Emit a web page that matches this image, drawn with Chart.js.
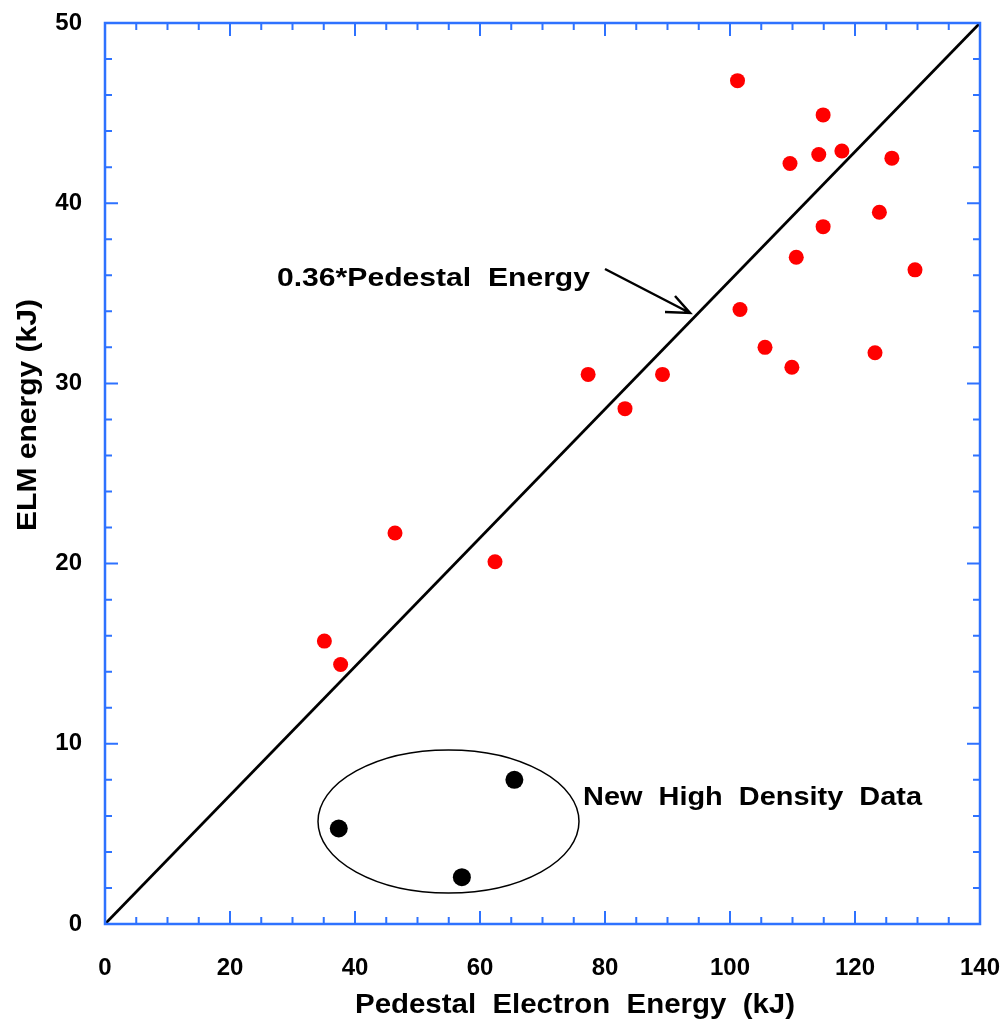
<!DOCTYPE html>
<html>
<head>
<meta charset="utf-8">
<script src="https://cdn.jsdelivr.net/npm/chart.js@4.4.0/dist/chart.umd.min.js"></script>
<style>
  html, body { margin: 0; padding: 0; background: #fff; }
  #wrap { width: 1000px; height: 1021px; }
</style>
</head>
<body>
<div id="wrap"><canvas id="chart" width="1000" height="1021"></canvas></div>
<script>
// ---------------------------------------------
// Data
// ---------------------------------------------
const pedestalX = [101.2, 114.9, 109.6, 114.2, 117.9, 125.9, 123.9, 114.9, 110.6, 129.6,
                   101.6, 105.6, 109.9, 123.2, 77.3, 89.2, 83.2, 46.4, 62.4, 35.1, 37.7];
const elmY      = [46.8, 44.9, 42.2, 42.7, 42.9, 42.5, 39.5, 38.7, 37.0, 36.3,
                   34.1, 32.0, 30.9, 31.7, 30.5, 30.5, 28.6, 21.7, 20.1, 15.7, 14.4];

const highDensX = [37.4, 57.1, 65.5];
const highDensY = [5.3, 2.6, 8.0];

const fitX = [0, 140];
const fitY = [0, 50];

const xTicks = [0, 20, 40, 60, 80, 100, 120, 140];
const yTicks = [0, 10, 20, 30, 40, 50];
const xMinorStep = 5;
const yMinorStep = 2;

// ---------------------------------------------
// Style
// ---------------------------------------------
const FONT = '"Liberation Sans", Arial, Helvetica, sans-serif';
const AXIS_BLUE = '#2e72ff';

function toPoints(xs, ys) {
    return xs.map((x, i) => ({ x: x, y: ys[i] }));
}

// draw text stretched sideways to a given width (the original lettering is wide)
function wideText(ctx, text, x, y, width) {
    const w = ctx.measureText(text).width;
    ctx.save();
    ctx.translate(x, y);
    ctx.scale(width / w, 1);
    ctx.fillText(text, 0, 0);
    ctx.restore();
}

// Frame, inward ticks and free text
const decorPlugin = {
    id: 'decor',
    afterDraw(chart) {
        const ctx = chart.ctx;
        const a = chart.chartArea;
        const xs = chart.scales.x;
        const ys = chart.scales.y;
        ctx.save();

        // ticks on all four sides
        ctx.strokeStyle = AXIS_BLUE;
        ctx.lineWidth = 2;
        ctx.beginPath();
        for (let v = xs.min; v <= xs.max + 1e-9; v += xMinorStep) {
            const len = xTicks.includes(v) ? 13 : 7;
            const px = xs.getPixelForValue(v);
            ctx.moveTo(px, a.bottom); ctx.lineTo(px, a.bottom - len);
            ctx.moveTo(px, a.top);    ctx.lineTo(px, a.top + len);
        }
        for (let v = ys.min; v <= ys.max + 1e-9; v += yMinorStep) {
            const len = yTicks.includes(v) ? 13 : 7;
            const py = ys.getPixelForValue(v);
            ctx.moveTo(a.left, py);  ctx.lineTo(a.left + len, py);
            ctx.moveTo(a.right, py); ctx.lineTo(a.right - len, py);
        }
        ctx.stroke();

        ctx.lineWidth = 2.5;
        ctx.strokeRect(a.left, a.top, a.right - a.left, a.bottom - a.top);

        // axis titles
        ctx.fillStyle = '#000';
        ctx.font = 'bold 27px ' + FONT;
        ctx.textAlign = 'left';
        ctx.textBaseline = 'alphabetic';
        wideText(ctx, 'Pedestal  Electron  Energy  (kJ)', 355, 1013, 440);

        ctx.save();
        ctx.translate(36, 531);
        ctx.rotate(-Math.PI / 2);
        wideText(ctx, 'ELM energy (kJ)', 0, 0, 232);
        ctx.restore();

        // annotations
        ctx.font = 'bold 25px ' + FONT;
        wideText(ctx, '0.36*Pedestal  Energy', 277, 286, 313);
        wideText(ctx, 'New  High  Density  Data', 583, 805, 339);

        // arrow to fit line
        ctx.strokeStyle = '#000';
        ctx.lineWidth = 2.5;
        ctx.beginPath();
        ctx.moveTo(605, 269);
        ctx.lineTo(690, 313);
        ctx.moveTo(665, 312);
        ctx.lineTo(690, 313);
        ctx.lineTo(675, 296);
        ctx.stroke();

        // ellipse round the high density points
        ctx.lineWidth = 1.5;
        ctx.beginPath();
        ctx.ellipse(448.5, 821.5, 130.5, 71.5, 0, 0, Math.PI * 2);
        ctx.stroke();

        ctx.restore();
    }
};

function fixedBox(w, h) {
    return function(scale) {
        if (w !== null) scale.width = w;
        if (h !== null) scale.height = h;
        scale.paddingLeft = 0;
        scale.paddingRight = 0;
        scale.paddingTop = 0;
        scale.paddingBottom = 0;
    };
}

new Chart(document.getElementById('chart').getContext('2d'), {
    type: 'scatter',
    data: {
        datasets: [{
            type: 'line',
            label: 'fit',
            data: toPoints(fitX, fitY),
            borderColor: '#000',
            borderWidth: 2.8,
            pointRadius: 0,
            fill: false
        }, {
            label: 'ELM',
            data: toPoints(pedestalX, elmY),
            backgroundColor: '#ff0000',
            borderWidth: 0,
            pointRadius: 7.5
        }, {
            label: 'New High Density Data',
            data: toPoints(highDensX, highDensY),
            backgroundColor: '#000',
            borderWidth: 0,
            pointRadius: 9
        }]
    },
    options: {
        responsive: false,
        animation: false,
        layout: { padding: { top: 23, right: 20, left: 0, bottom: 0 } },
        plugins: {
            legend: { display: false },
            tooltip: { enabled: false }
        },
        scales: {
            x: {
                type: 'linear',
                min: 0,
                max: 140,
                grid: { display: false, drawTicks: false },
                border: { display: false },
                afterFit: fixedBox(null, 97),
                afterBuildTicks(scale) { scale.ticks = xTicks.map(v => ({ value: v })); },
                ticks: {
                    padding: 30,
                    color: '#000',
                    maxRotation: 0,
                    font: { family: FONT, size: 24, weight: 'bold' }
                }
            },
            y: {
                type: 'linear',
                min: 0,
                max: 50,
                grid: { display: false, drawTicks: false },
                border: { display: false },
                afterFit: fixedBox(105, null),
                afterBuildTicks(scale) { scale.ticks = yTicks.map(v => ({ value: v })); },
                ticks: {
                    padding: 23,
                    color: '#000',
                    font: { family: FONT, size: 24, weight: 'bold' }
                }
            }
        }
    },
    plugins: [decorPlugin]
});
</script>
</body>
</html>
